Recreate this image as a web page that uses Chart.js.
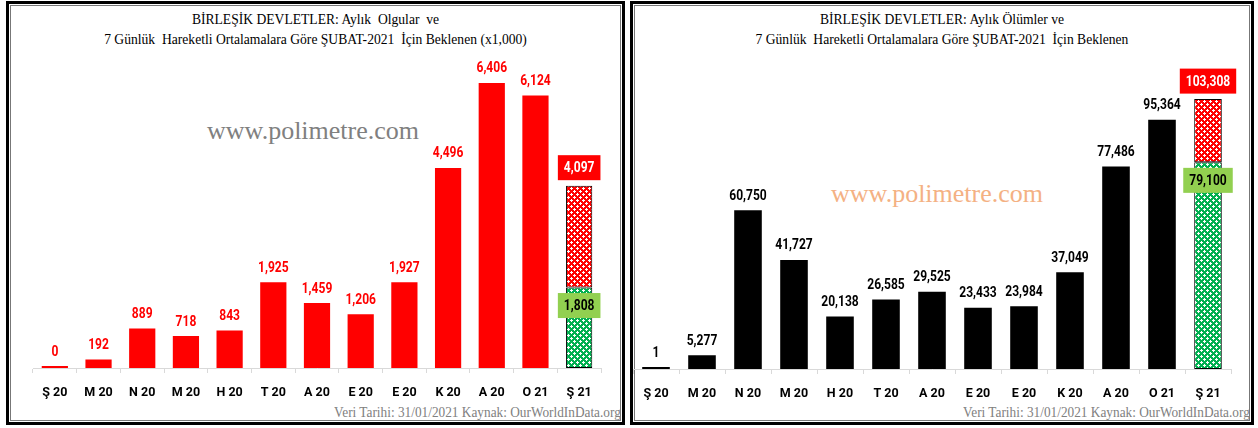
<!DOCTYPE html>
<html>
<head>
<meta charset="utf-8">
<script src="https://cdn.jsdelivr.net/npm/chart.js@4.4.1/dist/chart.umd.min.js"></script>
<style>
  body { margin: 0; width: 1258px; height: 428px; background: #fff; position: relative; overflow: hidden; font-family: 'Liberation Serif', 'Times New Roman', serif; }
  .panel { position: absolute; top: 1px; height: 424px; box-sizing: border-box; border: 3px solid #000; box-shadow: inset 0 0 0 1px #fff, inset 0 0 0 2px #777; }
  #leftPanel { left: 6px; width: 619px; }
  #rightPanel { left: 630px; width: 624px; }
  .title { position: absolute; left: 0; right: 0; top: 6px; text-align: center; font-size: 13.6px; line-height: 20px; white-space: pre; color: #000; }
  .wm { position: absolute; font-size: 26px; white-space: pre; }
  .foot { position: absolute; right: 1px; bottom: 1px; font-size: 14px; color: #808080; white-space: pre; transform: scaleX(0.95); transform-origin: right center; }
  canvas { position: absolute; top: 0; left: 0; }
</style>
</head>
<body>
<div class="panel" id="leftPanel">
  <div class="title">BİRLEŞİK DEVLETLER: Aylık  Olgular  ve
7 Günlük  Hareketli Ortalamalara Göre ŞUBAT-2021  İçin Beklenen (x1,000)</div>
  <div class="wm" style="left:198px; top:112px; color:#808080;">www.polimetre.com</div>
  <div class="foot">Veri Tarihi: 31/01/2021 Kaynak: OurWorldInData.org</div>
  <canvas id="casesChart" width="619" height="424" style="left:-3px; top:-3px;"></canvas>
</div>
<div class="panel" id="rightPanel">
  <div class="title">BİRLEŞİK DEVLETLER: Aylık Ölümler ve
7 Günlük  Hareketli Ortalamalara Göre ŞUBAT-2021  İçin Beklenen</div>
  <div class="wm" style="left:198px; top:175px; color:#F4B183;">www.polimetre.com</div>
  <div class="foot">Veri Tarihi: 31/01/2021 Kaynak: OurWorldInData.org</div>
  <canvas id="deathsChart" width="624" height="424" style="left:-3px; top:-3px;"></canvas>
</div>

<script>
// months, Şubat 2020 .. Şubat 2021
const months = ['Ş 20', 'M 20', 'N 20', 'M 20', 'H 20', 'T 20', 'A 20', 'E 20', 'E 20', 'K 20', 'A 20', 'O 21', 'Ş 21'];

// monthly cases (x1,000)
const casesMonthly = [0, 192, 889, 718, 843, 1925, 1459, 1206, 1927, 4496, 6406, 6124, null];
const casesFebSoFar = 1808;
const casesFebExpected = 4097;

// monthly deaths
const deathsMonthly = [1, 5277, 60750, 41727, 20138, 26585, 29525, 23433, 23984, 37049, 77486, 95364, null];
const deathsFebSoFar = 79100;
const deathsFebExpected = 103308;

const labelFont = "'Roboto', 'Liberation Sans', sans-serif";

function makePattern(base) {
    const c = document.createElement('canvas');
    c.width = 6; c.height = 6;
    const g = c.getContext('2d');
    g.fillStyle = base;
    g.fillRect(0, 0, 6, 6);
    g.fillStyle = '#fff';
    g.fillRect(1, 0, 1, 3); g.fillRect(0, 1, 3, 1);
    g.fillRect(4, 3, 1, 3); g.fillRect(3, 4, 3, 1);
    return g.createPattern(c, 'repeat');
}

function fmt(v) { return v.toLocaleString('en-US'); }

// narrow text, close to the Calibri look of the original
function narrowText(ctx, text, x, y) {
    ctx.save();
    ctx.translate(x, y);
    ctx.scale(0.86, 1);
    ctx.fillText(text, 0, 0);
    ctx.restore();
}

function drawBox(ctx, text, cx, cy, bg, fg) {
    const w = ctx.measureText(text).width * 0.86;
    ctx.fillStyle = bg;
    ctx.fillRect(cx - w / 2 - 6, cy - 12.5, w + 12, 25);
    ctx.fillStyle = fg;
    narrowText(ctx, text, cx, cy + 1);
}

const valueLabels = {
    id: 'valueLabels',
    afterDatasetsDraw(chart, args, opts) {
        const ctx = chart.ctx;
        ctx.save();
        ctx.font = 'bold 14px ' + labelFont;
        ctx.textAlign = 'center';
        ctx.textBaseline = 'middle';
        const monthly = chart.data.datasets[0].data;
        chart.getDatasetMeta(0).data.forEach((bar, i) => {
            if (monthly[i] == null) return;
            ctx.fillStyle = opts.color;
            narrowText(ctx, fmt(monthly[i]), bar.x, bar.y - 14);
        });
        const last = monthly.length - 1;
        const soFarBar = chart.getDatasetMeta(1).data[last];
        const restBar = chart.getDatasetMeta(2).data[last];
        drawBox(ctx, fmt(opts.expected), restBar.x, restBar.y - 18, '#FF0000', '#fff');
        drawBox(ctx, fmt(opts.soFar), soFarBar.x, soFarBar.y + 18, '#92D050', '#000');
        ctx.restore();
    }
};

function makeChart(id, monthly, soFar, expected, color, labelColor, yMax, pad) {
    const last = monthly.length - 1;
    const soFarData = monthly.map((v, i) => i === last ? soFar : null);
    const restData = monthly.map((v, i) => i === last ? expected - soFar : null);

    return new Chart(document.getElementById(id), {
        type: 'bar',
        data: {
            labels: months,
            datasets: [
                { data: monthly, backgroundColor: color, minBarLength: 2 },
                { data: soFarData, backgroundColor: makePattern('#00B050'), borderColor: '#000', borderWidth: 1, borderSkipped: false },
                { data: restData, backgroundColor: makePattern('#FF0000'), borderColor: '#000', borderWidth: 1, borderSkipped: false }
            ]
        },
        options: {
            responsive: false,
            animation: false,
            layout: { padding: pad },
            datasets: { bar: { categoryPercentage: 1, barPercentage: 0.6 } },
            plugins: {
                legend: { display: false },
                tooltip: { enabled: false },
                valueLabels: { color: labelColor, soFar: soFar, expected: expected }
            },
            scales: {
                x: {
                    stacked: true,
                    grid: { drawOnChartArea: false, offset: true, tickLength: 5, color: '#d9d9d9' },
                    border: { color: '#d9d9d9' },
                    ticks: { color: '#000', padding: 12, font: { family: labelFont, size: 12.5, weight: 'bold' } },
                    afterFit(scale) { scale.height = 33; }
                },
                y: { stacked: true, display: false, min: 0, max: yMax }
            }
        },
        plugins: [valueLabels]
    });
}

makeChart('casesChart', casesMonthly, casesFebSoFar, casesFebExpected, '#FF0000', '#FF0000', 7000,
    { left: 27, right: 24, top: 55.5, bottom: 24 });
makeChart('deathsChart', deathsMonthly, deathsFebSoFar, deathsFebExpected, '#000000', '#000000', 120000,
    { left: 3, right: 23, top: 54.5, bottom: 23 });
</script>
</body>
</html>
